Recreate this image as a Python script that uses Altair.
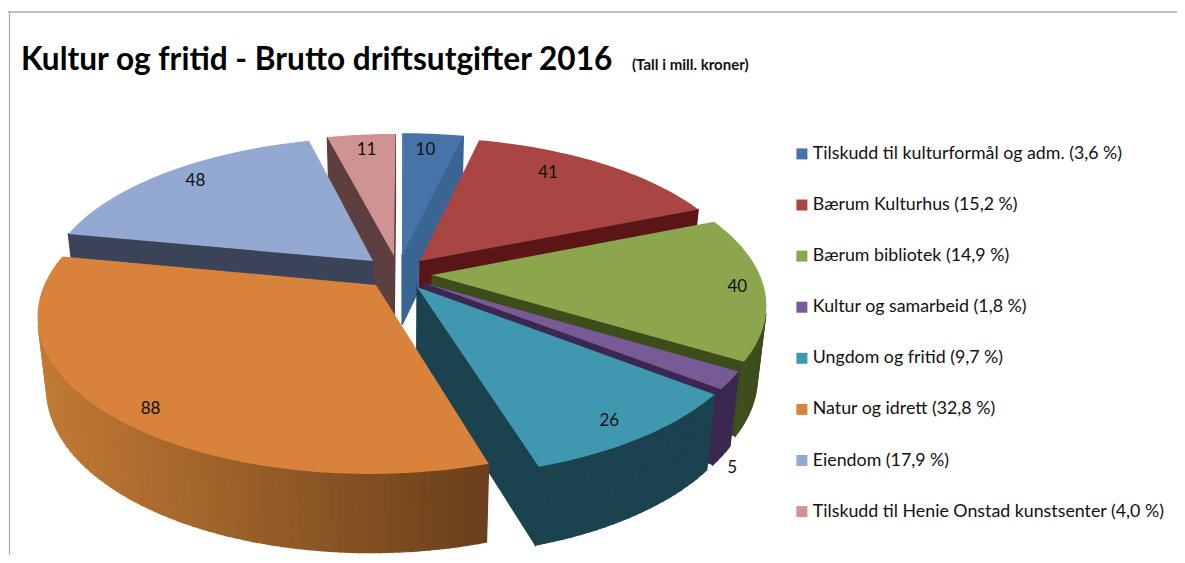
import math
import altair as alt
import pandas as pd

# ---- data ----
names = ["Tilskudd til kulturformål og adm. (3,6 %)", "Bærum Kulturhus (15,2 %)",
         "Bærum bibliotek (14,9 %)", "Kultur og samarbeid (1,8 %)",
         "Ungdom og fritid (9,7 %)", "Natur og idrett (32,8 %)",
         "Eiendom (17,9 %)", "Tilskudd til Henie Onstad kunstsenter (4,0 %)"]
shares = [3.6, 15.2, 14.9, 1.8, 9.7, 32.8, 17.9, 4.0]
amounts = [10, 41, 40, 5, 26, 88, 48, 11]
top_colors = ["#4674a8", "#a94644", "#8ba64d", "#785a96", "#3f98b0", "#d8823c", "#93a9d1", "#d09393"]
wall_left = ["#3a6593", "#5a1616", "#44561f", "#3a2850", "#1b434f", "#c27a35", "#3b4358", "#5e3f3f"]
wall_right = ["#3a6593", "#5a1616", "#3c4c1b", "#3a2850", "#1b434f", "#6a3f1a", "#3b4358", "#5e3f3f"]
title_text = "Kultur og fritid - Brutto driftsutgifter 2016"
note_text = "(Tall i mill. kroner)"

# ---- drawing geometry of the exploded 3-D pie ----
XC, YC, RX, RY, P = 403.0, 268.0, 325.0, 148.0, 0.18
apex_screen = [(402, 255), (420, 261), (432, 275), (424, 283), (417, 287), (376, 285), (373, 261), (394, 256)]
label_r = [0.87, 0.80, 0.90, 1.0, 0.87, 0.90, 0.85, 0.88]
label_dx = [-4, -21, 7, 2, 1, 6, 0, 2]
label_dy = [2, -8, 1, 88, 6, 6, -3, 3]
draw_order = [7, 0, 6, 1, 2, 3, 4, 5]
OFF = 8


def to_plane(X, Y):
    dy = Y - YC
    V = dy / (RY + P * dy)
    U = (X - XC) * (1 - P * V) / RX
    return U, V


def to_screen(U, V):
    w = 1 - P * V
    return XC + RX * U / w, YC + RY * V / w


def lower(pt):
    x, y = pt
    return XC + (x - XC) * 0.975, y + 70 + (y - 255) * 0.04


def mix(a, b, t):
    t = max(0.0, min(1.0, t))
    ca = [int(a[i:i + 2], 16) for i in (1, 3, 5)]
    cb = [int(b[i:i + 2], 16) for i in (1, 3, 5)]
    return "#%02x%02x%02x" % tuple(round(p + (q - p) * t) for p, q in zip(ca, cb))


def feature(ring, **props):
    pts = [[round(x - OFF, 2), round(y - OFF, 2)] for x, y in ring]
    pts.append(pts[0])
    return {"type": "Feature", "properties": props, "geometry": {"type": "Polygon", "coordinates": [pts]}}


def area(r):
    return sum(r[i][0] * r[(i + 1) % len(r)][1] - r[(i + 1) % len(r)][0] * r[i][1] for i in range(len(r)))


total = sum(shares)
bounds = [0.0]
for s in shares:
    bounds.append(bounds[-1] + s / total * 2 * math.pi)

layers = []
label_rows = []
domain_scale = alt.Scale(domain=names, range=top_colors)
geo = dict(type="identity", scale=1, translate=[0, 0])
slices = {}
for i in range(len(shares)):
    Ua, Va = to_plane(*apex_screen[i])
    a0, a1 = bounds[i], bounds[i + 1]
    n = max(4, int((a1 - a0) * 40))
    arc = []
    for k in range(n + 1):
        t = a0 + (a1 - a0) * k / n
        arc.append(to_screen(Ua + math.sin(t), Va - math.cos(t)))
    ap = to_screen(Ua, Va)
    walls = []
    span_l, span_r = min(p[0] for p in arc), max(p[0] for p in arc)
    # the two cut faces, only those turned toward the viewer
    for ring in ([ap, arc[0], lower(arc[0]), lower(ap)], [arc[-1], ap, lower(ap), lower(arc[-1])]):
        if area(ring) < 0:
            walls.append(feature(ring, fill=wall_right[i]))
    # the outer rim, in thin facets so its shade can run across it
    for k in range(n):
        ring = [arc[k + 1], arc[k], lower(arc[k]), lower(arc[k + 1])]
        if area(ring) > 0:
            t = ((arc[k][0] + arc[k + 1][0]) / 2 - span_l) / max(1.0, span_r - span_l)
            walls.append(feature(ring, fill=mix(wall_left[i], wall_right[i], t)))
    top = feature([ap] + arc, cat=names[i])
    slices[i] = (walls, top)
    mid = (a0 + a1) / 2
    lx, ly = to_screen(Ua + label_r[i] * math.sin(mid), Va - label_r[i] * math.cos(mid))
    label_rows.append({"x": lx - OFF + label_dx[i], "y": ly - OFF + label_dy[i], "amount": amounts[i]})

for i in draw_order:
    walls, top = slices[i]
    if walls:
        layers.append(
            alt.Chart(alt.Data(values=walls)).mark_geoshape(strokeWidth=1.2)
            .encode(color=alt.Color("properties.fill:N", scale=None),
                    stroke=alt.Stroke("properties.fill:N", scale=None))
            .project(**geo)
        )
    layers.append(
        alt.Chart(alt.Data(values=[top])).mark_geoshape(strokeWidth=0)
        .encode(color=alt.Color("properties.cat:N", scale=domain_scale, sort=names,
                                legend=alt.Legend(title=None, orient="none", legendX=785, legendY=137,
                                                  symbolType="square", symbolSize=121, symbolStrokeWidth=0,
                                                  labelFont="Lato", labelFontSize=17.8, labelColor="#111111",
                                                  labelLimit=500, labelOffset=2, rowPadding=32.1,
                                                  padding=0)))
        .project(**geo)
    )

labels = alt.Chart(pd.DataFrame(label_rows)).mark_text(font="Lato", fontSize=17, color="#111111").encode(
    x=alt.X("x:Q", scale=None), y=alt.Y("y:Q", scale=None), text="amount:N")

title = alt.Chart(pd.DataFrame({"t": [title_text]})).mark_text(
    font="Lato", fontWeight="bold", fontSize=31.6, align="left", baseline="alphabetic", color="#000000"
).encode(text="t:N", x=alt.value(13), y=alt.value(62))
note = alt.Chart(pd.DataFrame({"t": [note_text]})).mark_text(
    font="Lato", fontWeight="bold", fontSize=15, align="left", baseline="alphabetic", color="#111111"
).encode(text="t:N", x=alt.value(624), y=alt.value(62))

frame_top = alt.Chart(pd.DataFrame({"k": [0]})).mark_rule(color="#a8a8a8", strokeWidth=1.5).encode(
    x=alt.value(0), x2=alt.value(1177), y=alt.value(4))
frame_left = alt.Chart(pd.DataFrame({"k": [0]})).mark_rule(color="#a8a8a8", strokeWidth=1.2).encode(
    x=alt.value(1.5), y=alt.value(4), y2=alt.value(555))

chart = alt.layer(frame_top, frame_left, *layers, labels, title, note).properties(
    width=1169, height=547, padding=0, background="white",
    autosize=alt.AutoSizeParams(type="none")
).configure_view(stroke=None)

chart.save("out.html", embed_options={"renderer": "svg", "actions": False})
